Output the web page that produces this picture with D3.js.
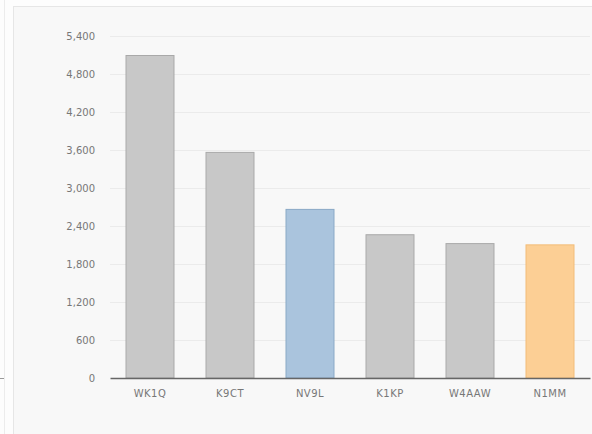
<!DOCTYPE html>
<html><head><meta charset="utf-8">
<script src="https://cdn.jsdelivr.net/npm/d3@7"></script>
<style>
html,body{margin:0;padding:0;background:#fff;}
svg{display:block;font-family:"DejaVu Sans",Verdana,sans-serif;}
</style></head>
<body>
<svg id="chart" width="592" height="434"></svg>
<script>
const categories = ["WK1Q","K9CT","NV9L","K1KP","W4AAW","N1MM"];
const values = [5100,3570,2670,2270,2130,2110];
const barColors = ["#c8c8c8","#c8c8c8","#aac4dd","#c8c8c8","#c8c8c8","#fccf95"];
const barStrokes = ["#a9a9a9","#a9a9a9","#8aa9c6","#a9a9a9","#a9a9a9","#f2bc78"];
const yTicks = [0,600,1200,1800,2400,3000,3600,4200,4800,5400];

const svg = d3.select("#chart");
// frame
svg.append("rect").attr("x",0).attr("y",0).attr("width",592).attr("height",434).attr("fill","#fdfdfd");
svg.append("rect").attr("x",13.5).attr("y",6.5).attr("width",590).attr("height",440).attr("fill","#f8f8f8").attr("stroke","#e6e6e6");
svg.append("line").attr("x1",4.5).attr("x2",4.5).attr("y1",0).attr("y2",434).attr("stroke","#ececec");
svg.append("line").attr("x1",0).attr("x2",4).attr("y1",378.5).attr("y2",378.5).attr("stroke","#999");

const y = d3.scaleLinear().domain([0,5400]).range([378,36]);
const x = d3.scaleBand().domain(categories).range([110,590]).paddingInner(0.3875).paddingOuter(0.19375);

// gridlines
svg.append("g").selectAll("line").data(yTicks.filter(d=>d>0)).join("line")
  .attr("x1",110).attr("x2",590)
  .attr("y1",d=>Math.round(y(d))+0.5).attr("y2",d=>Math.round(y(d))+0.5)
  .attr("stroke","#ebebeb");

// y axis labels
const yAxis = d3.axisLeft(y).tickValues(yTicks).tickSize(0).tickPadding(0).tickFormat(d3.format(","));
const gy = svg.append("g").attr("transform","translate(95,0)").call(yAxis);
gy.select(".domain").remove();
gy.selectAll("text").attr("fill","#777").attr("font-size","10px").attr("font-family","DejaVu Sans, Verdana, sans-serif");

// bars
svg.append("g").selectAll("rect").data(values).join("rect")
  .attr("x",(d,i)=>x(categories[i])+0.5)
  .attr("y",d=>y(d)+0.5)
  .attr("width",x.bandwidth()-1)
  .attr("height",d=>y(0)-y(d)-0.5)
  .attr("fill",(d,i)=>barColors[i])
  .attr("stroke",(d,i)=>barStrokes[i]);

// x axis
const xAxis = d3.axisBottom(x).tickSize(0).tickPadding(12);
const gx = svg.append("g").attr("transform","translate(0,378)").call(xAxis);
gx.select(".domain").attr("stroke","#666").attr("stroke-width",1.5);
gx.selectAll("text").attr("fill","#777").attr("font-size","10px").attr("font-family","DejaVu Sans, Verdana, sans-serif").attr("letter-spacing","0.5px");
</script>
</body></html>
